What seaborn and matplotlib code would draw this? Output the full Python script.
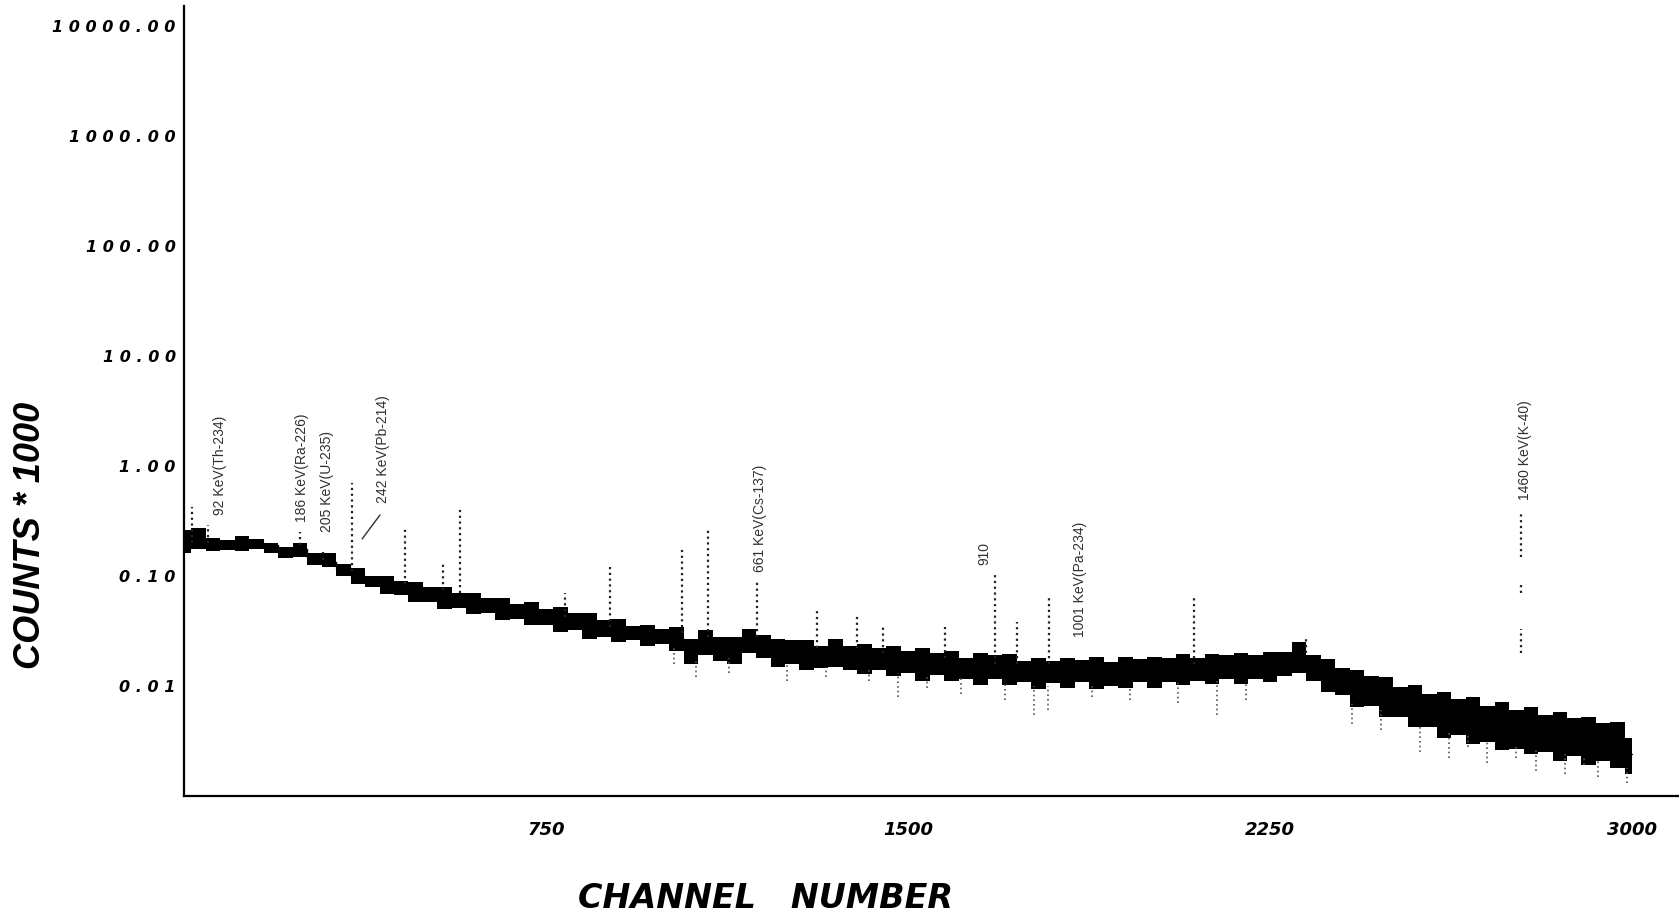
import numpy as np
import seaborn as sns
import matplotlib.pyplot as plt

# continuum of the spectrum, sampled every 30 channels (counts * 1000)
channels = np.arange(0, 3001, 30)
center = [0.19, 0.2, 0.2, 0.195, 0.2, 0.2, 0.19, 0.165, 0.175, 0.145,
          0.135, 0.118, 0.1, 0.09, 0.083, 0.078, 0.072, 0.068, 0.064, 0.06,
          0.057, 0.054, 0.051, 0.049, 0.046, 0.043, 0.041, 0.039, 0.036, 0.034,
          0.032, 0.03, 0.029, 0.028, 0.027, 0.022, 0.024, 0.023, 0.022, 0.025,
          0.024, 0.021, 0.021, 0.02, 0.019, 0.02, 0.019, 0.018, 0.018, 0.017,
          0.017, 0.016, 0.016, 0.0155, 0.015, 0.0145, 0.015, 0.0145, 0.014, 0.0135,
          0.014, 0.0135, 0.014, 0.0135, 0.013, 0.0135, 0.014, 0.0135, 0.014, 0.0145,
          0.014, 0.0145, 0.015, 0.0145, 0.015, 0.015, 0.016, 0.018, 0.015, 0.0125,
          0.011, 0.0095, 0.009, 0.008, 0.0073, 0.0066, 0.006, 0.0056, 0.0053, 0.005,
          0.0046, 0.0044, 0.0041, 0.004, 0.0037, 0.0035, 0.0034, 0.0032, 0.003, 0.0029,
          0.0024]
band_low = [0.16, 0.175, 0.17, 0.172, 0.17, 0.175, 0.16, 0.145, 0.15, 0.125,
            0.12, 0.1, 0.084, 0.08, 0.068, 0.067, 0.058, 0.058, 0.05, 0.051,
            0.045, 0.046, 0.04, 0.041, 0.036, 0.036, 0.031, 0.032, 0.027, 0.028,
            0.025, 0.026, 0.023, 0.024, 0.021, 0.016, 0.019, 0.017, 0.016, 0.02,
            0.018, 0.015, 0.016, 0.014, 0.0145, 0.015, 0.014, 0.0128, 0.014, 0.0122,
            0.013, 0.0112, 0.0125, 0.011, 0.0115, 0.0102, 0.0115, 0.0102, 0.0108, 0.0094,
            0.0106, 0.0095, 0.0108, 0.0094, 0.01, 0.0095, 0.0108, 0.0095, 0.0108, 0.0102,
            0.011, 0.0104, 0.0115, 0.0104, 0.0115, 0.0108, 0.0122, 0.013, 0.0112, 0.0088,
            0.0082, 0.0064, 0.0066, 0.0052, 0.0052, 0.0042, 0.0042, 0.0034, 0.0036, 0.003,
            0.0031, 0.0026, 0.0027, 0.0024, 0.0025, 0.0021, 0.0023, 0.0019, 0.0021, 0.0018,
            0.0016]
band_high = [0.26, 0.27, 0.22, 0.21, 0.23, 0.215, 0.2, 0.185, 0.2, 0.16,
             0.16, 0.128, 0.118, 0.1, 0.1, 0.09, 0.088, 0.08, 0.08, 0.07,
             0.07, 0.063, 0.063, 0.056, 0.058, 0.05, 0.052, 0.046, 0.046, 0.04,
             0.041, 0.035, 0.036, 0.033, 0.034, 0.027, 0.032, 0.028, 0.028, 0.033,
             0.029, 0.027, 0.026, 0.026, 0.023, 0.027, 0.023, 0.024, 0.022, 0.023,
             0.021, 0.022, 0.02, 0.021, 0.018, 0.02, 0.019, 0.0195, 0.017, 0.018,
             0.017, 0.018, 0.0172, 0.0185, 0.0165, 0.0182, 0.0175, 0.0185, 0.018, 0.0195,
             0.018, 0.0195, 0.019, 0.02, 0.019, 0.0205, 0.0205, 0.025, 0.019, 0.0175,
             0.0145, 0.014, 0.0122, 0.012, 0.0098, 0.0102, 0.0085, 0.0088, 0.0076, 0.0079,
             0.0066, 0.0071, 0.006, 0.0065, 0.0055, 0.0058, 0.0051, 0.0052, 0.0046, 0.0047,
             0.0034]

# photopeaks standing above the continuum (K-40 peak drawn in broken pieces)
peak_channels = [17, 50, 240, 288, 348, 458, 537, 572, 790, 883, 1032, 1086,
                 1187, 1311, 1394, 1448, 1576, 1680, 1725, 1792, 2093, 2325,
                 2769, 2769, 2769]
peak_tops = [0.42, 0.29, 0.25, 0.17, 0.70, 0.28, 0.135, 0.42, 0.07, 0.12, 0.18, 0.26,
             0.088, 0.051, 0.044, 0.034, 0.034, 0.106, 0.038, 0.067, 0.065, 0.028,
             0.37, 0.085, 0.033]
peak_bases = [0.2, 0.2, 0.19, 0.14, 0.11, 0.085, 0.075, 0.07, 0.042, 0.034, 0.03, 0.028,
              0.028, 0.022, 0.022, 0.02, 0.018, 0.016, 0.016, 0.016, 0.016, 0.02,
              0.15, 0.07, 0.02]

# downward outliers below the continuum
dip_channels = [1015, 1060, 1130, 1250, 1330, 1420, 1480, 1540, 1610, 1700,
                1760, 1790, 1880, 1960, 2060, 2140, 2200, 2420, 2480, 2560,
                2620, 2660, 2700, 2760, 2800, 2860, 2900, 2930, 2990]
dip_bottoms = [0.016, 0.012, 0.013, 0.011, 0.012, 0.011, 0.008, 0.0095, 0.0085, 0.0075,
               0.0055, 0.006, 0.008, 0.0075, 0.007, 0.0055, 0.0075, 0.0045, 0.004, 0.0025,
               0.0022, 0.0028, 0.002, 0.0022, 0.0017, 0.0016, 0.0019, 0.0015, 0.0013]
dip_tops = [0.022, 0.018, 0.018, 0.016, 0.015, 0.014, 0.013, 0.012, 0.012, 0.011,
            0.01, 0.01, 0.01, 0.01, 0.011, 0.011, 0.011, 0.007, 0.006, 0.0045,
            0.004, 0.0035, 0.0032, 0.003, 0.0026, 0.0024, 0.0022, 0.0021, 0.0018]

# peak labels
label_texts = ["92 KeV(Th-234)", "186 KeV(Ra-226)", "205 KeV(U-235)", "242 KeV(Pb-214)",
               "661 KeV(Cs-137)", "910", "1001 KeV(Pa-234)", "1460 KeV(K-40)"]
label_channels = [75, 244, 296, 412, 1193, 1659, 1856, 2778]
label_values = [0.359, 0.31, 0.251, 0.461, 0.109, 0.126, 0.0279, 0.491]

ytick_values = [10000, 1000, 100, 10, 1, 0.1, 0.01]
ytick_labels = ["10000.00", "1000.00", "100.00", "10.00", "1.00", "0.10", "0.01"]
xtick_values = [750, 1500, 2250, 3000]

sns.set_style("white")
plt.rcParams["font.family"] = ["DejaVu Sans"]
plt.rcParams["text.color"] = "black"
plt.rcParams["xtick.color"] = "black"
plt.rcParams["ytick.color"] = "black"

fig = plt.figure(figsize=(16.79, 9.17), dpi=100)
ax = fig.add_axes([184 / 1679, 121 / 917, 1 - 184 / 1679, 790 / 917])
ax.set_yscale("log")

ax.fill_between(channels, band_low, band_high, step="mid", color="black", lw=0)
sns.lineplot(x=channels, y=center, ax=ax, color="black", lw=1, drawstyle="steps-mid")
ax.vlines(peak_channels, peak_bases, peak_tops, colors="#222222", lw=1.6,
          linestyles=(0, (1, 1.6)))
ax.vlines(dip_channels, dip_bottoms, dip_tops, colors="#555555", lw=1.2,
          linestyles=(0, (1, 1.8)))

for txt, xc, yv in zip(label_texts, label_channels, label_values):
    ax.text(xc, yv, txt, rotation=90, ha="center", va="bottom", fontsize=10,
            color="#303030", family=["Liberation Sans", "DejaVu Sans"])
ax.plot([406, 369], [0.358, 0.217], color="#303030", lw=1)

ax.set_xlim(0, 3097)
ax.set_ylim(1e-3, 10 ** 4.18)
ax.set_yticks(ytick_values)
ax.set_yticklabels([" ".join(s) for s in ytick_labels], fontsize=11.5,
                   fontweight="bold", fontstyle="italic")
ax.set_xticks(xtick_values)
ax.set_xticklabels([str(v) for v in xtick_values], fontsize=13,
                   fontweight="bold", fontstyle="italic")
ax.minorticks_off()
ax.tick_params(axis="y", direction="in", length=11, width=1.5, pad=6)
ax.tick_params(axis="x", direction="in", length=9, width=1.2, pad=18)
for side in ["top", "right"]:
    ax.spines[side].set_visible(False)
for side in ["left", "bottom"]:
    ax.spines[side].set_linewidth(1.6)
    ax.spines[side].set_color("black")

fig.text(30 / 1679, 1 - 535 / 917, "COUNTS * 1000", rotation=90, ha="center",
         va="center", fontsize=26, fontweight="bold", fontstyle="italic",
         family=["Liberation Sans", "DejaVu Sans"])
fig.text(766 / 1679, 1 - 898 / 917, "CHANNEL   NUMBER", ha="center", va="center",
         fontsize=24, fontweight="bold", fontstyle="italic")

fig.savefig("out.png", dpi=100, facecolor="white")
